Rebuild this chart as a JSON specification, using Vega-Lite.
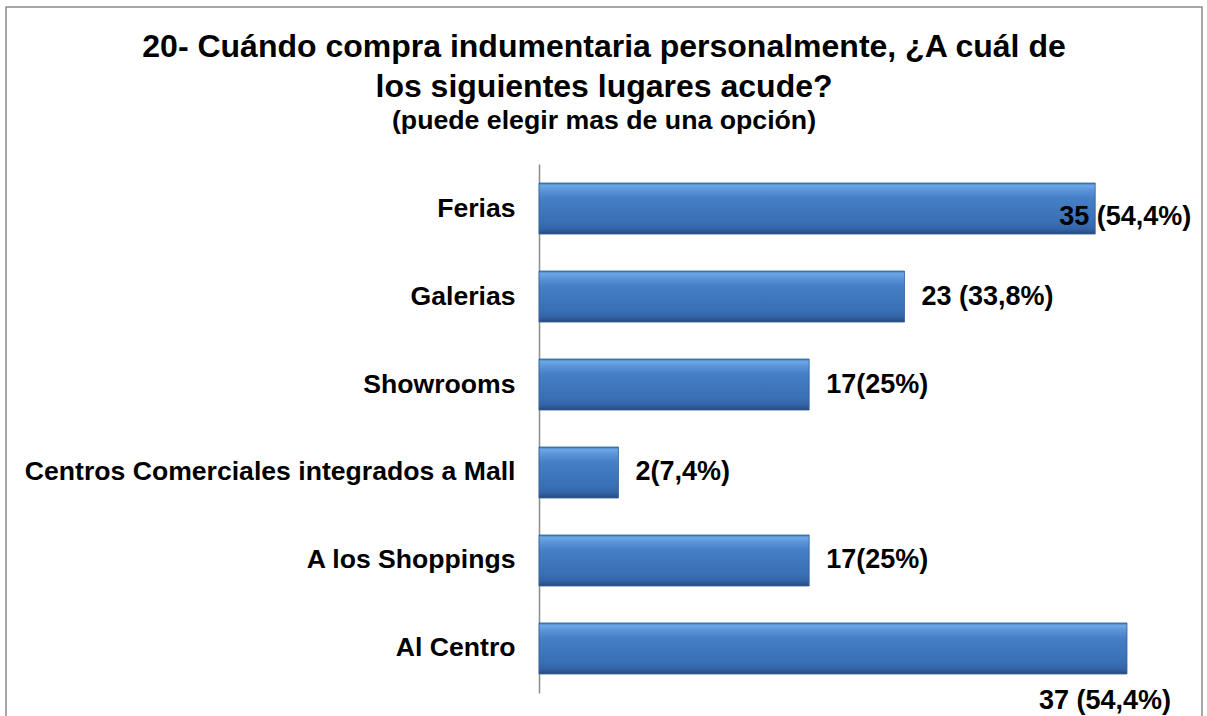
{
  "$schema": "https://vega.github.io/schema/vega-lite/v6.json",
  "width": 1196,
  "height": 720,
  "autosize": {"type": "none"},
  "padding": {"left": 6, "top": 7, "right": 5, "bottom": 0},
  "background": "white",
  "config": {
    "view": {"stroke": "#8A8A8A", "strokeWidth": 1.5},
    "font": "Liberation Sans"
  },
  "title": {
    "text": ["20- Cuándo compra indumentaria personalmente, ¿A cuál de", "los siguientes lugares acude?"],
    "subtitle": "(puede elegir mas de una opción)",
    "font": "Liberation Sans",
    "fontSize": 32,
    "fontWeight": "bold",
    "lineHeight": 40,
    "color": "black",
    "subtitleFont": "Liberation Sans",
    "subtitleFontSize": 26.7,
    "subtitleFontWeight": "bold",
    "subtitleColor": "black",
    "subtitlePadding": 4,
    "anchor": "middle",
    "frame": "group",
    "offset": -129
  },
  "data": {
    "values": [
      {"lugar": "Ferias\u00a0", "valor": 35, "etiqueta": "35 (54,4%)"},
      {"lugar": "Galerias", "valor": 23, "etiqueta": "23 (33,8%)"},
      {"lugar": "Showrooms", "valor": 17, "etiqueta": "17(25%)"},
      {"lugar": "Centros Comerciales integrados a Mall", "valor": 5, "etiqueta": "2(7,4%)"},
      {"lugar": "A los Shoppings", "valor": 17, "etiqueta": "17(25%)"},
      {"lugar": "Al Centro", "valor": 37, "etiqueta": "37 (54,4%)"}
    ]
  },
  "encoding": {
    "y": {
      "field": "lugar",
      "type": "nominal",
      "sort": null,
      "title": null,
      "scale": {"range": [157, 686], "paddingInner": 0.42, "paddingOuter": 0.216},
      "axis": {
        "orient": "left",
        "offset": -533,
        "domain": true,
        "domainColor": "#8C8C8C",
        "domainWidth": 1.5,
        "ticks": false,
        "grid": false,
        "labelPadding": 24,
        "labelFont": "Liberation Sans",
        "labelFontSize": 26.6,
        "labelFontWeight": "bold",
        "labelColor": "black",
        "labelLimit": 700
      }
    },
    "x": {
      "field": "valor",
      "type": "quantitative",
      "axis": null,
      "scale": {"domain": [-33.54, 41.72], "nice": false, "zero": false}
    }
  },
  "layer": [
    {
      "mark": {
        "type": "bar",
        "stroke": "#2F5F9A",
        "strokeWidth": 0.8,
        "color": {
          "gradient": "linear",
          "x1": 0, "y1": 0, "x2": 0, "y2": 1,
          "stops": [
            {"offset": 0, "color": "#3F74B5"},
            {"offset": 0.05, "color": "#6FA7E6"},
            {"offset": 0.15, "color": "#5A93D8"},
            {"offset": 0.3, "color": "#457FC6"},
            {"offset": 0.75, "color": "#3A70B5"},
            {"offset": 0.9, "color": "#3464A6"},
            {"offset": 1, "color": "#26497A"}
          ]
        }
      }
    },
    {
      "transform": [{"filter": "datum.valor != 35 && datum.valor != 37"}],
      "mark": {"type": "text", "align": "left", "baseline": "middle", "dx": 17, "fontSize": 27, "fontWeight": "bold", "color": "black"},
      "encoding": {
        "text": {"field": "etiqueta"}
      }
    },
    {
      "transform": [{"filter": "datum.valor == 35"}],
      "mark": {"type": "text", "align": "left", "baseline": "middle", "dx": -36, "dy": 8, "fontSize": 27, "fontWeight": "bold", "color": "black"},
      "encoding": {
        "text": {"field": "etiqueta"}
      }
    },
    {
      "transform": [{"filter": "datum.valor == 37"}],
      "mark": {"type": "text", "align": "right", "baseline": "middle", "dx": 44, "dy": 53, "fontSize": 27, "fontWeight": "bold", "color": "black"},
      "encoding": {
        "text": {"field": "etiqueta"}
      }
    }
  ]
}
